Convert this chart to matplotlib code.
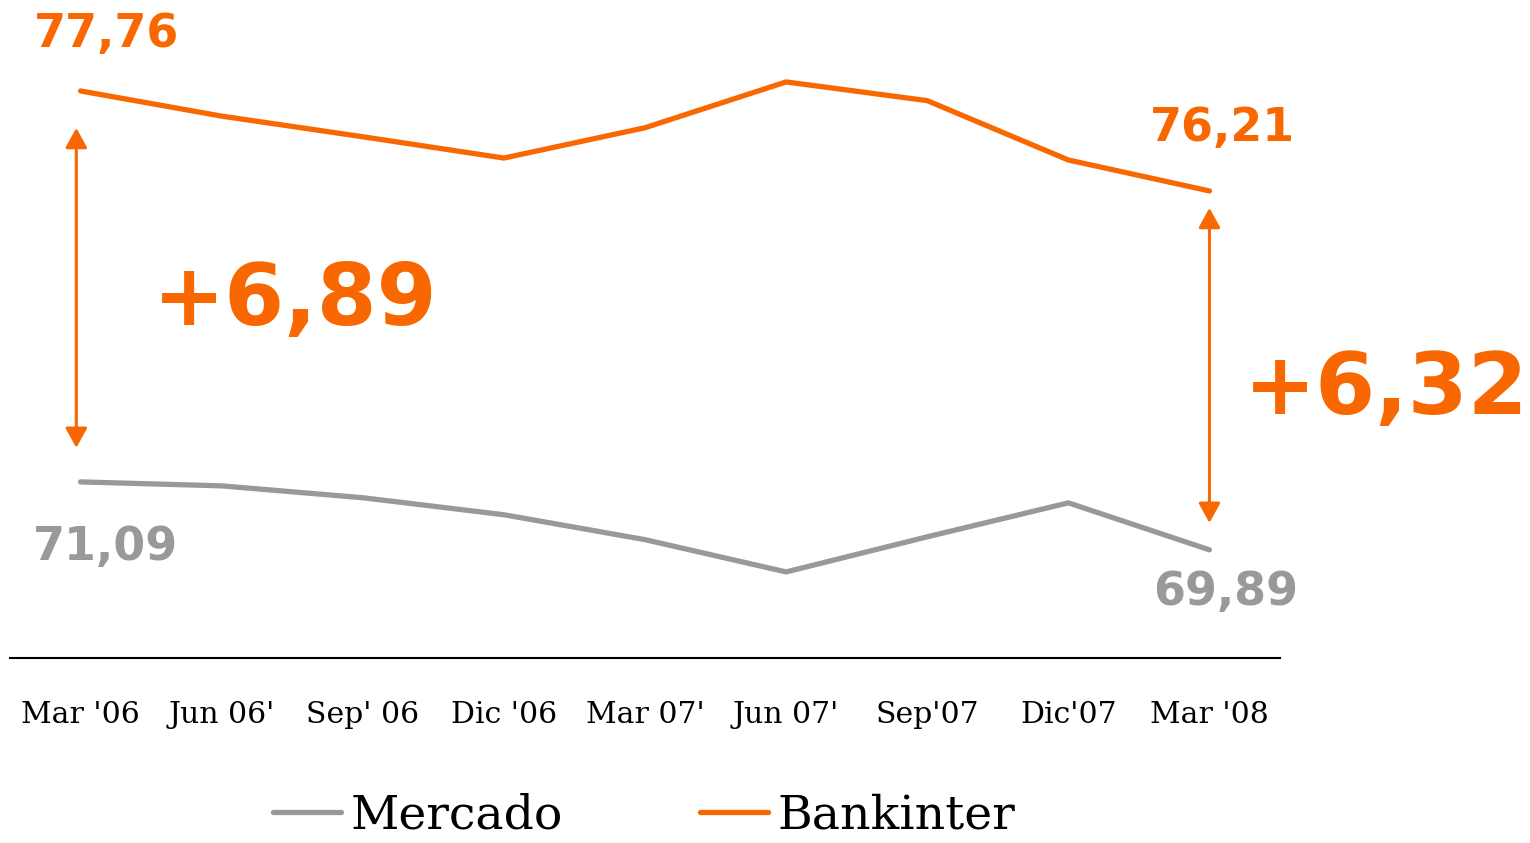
import numpy as np
import matplotlib
matplotlib.use("Agg")
import matplotlib.pyplot as plt

# ---------------------------------------------------------------------------
# DATA
# ---------------------------------------------------------------------------
periods = ["Mar '06", "Jun 06'", "Sep' 06", "Dic '06", "Mar 07'",
           "Jun 07'", "Sep'07", "Dic'07", "Mar '08"]
bankinter = [77.76, 77.37, 77.05, 76.72, 77.19, 77.90, 77.61, 76.69, 76.21]
mercado = [71.09, 71.02, 70.81, 70.51, 70.07, 69.50, 70.12, 70.72, 69.89]
gap_labels = ["+6,89", "+6,32"]

ORANGE = "#F96700"
GREY = "#999999"


def fmt(v):
    return ("%.2f" % v).replace(".", ",")


fig = plt.figure(figsize=(15.3, 8.43), dpi=100)
rect = [10 / 1530, 1 - 658 / 843, 1270 / 1530, 658 / 843]

#- grey series on its own (hidden) scale, orange on top
ax_g = fig.add_axes(rect)
ax_o = fig.add_axes(rect, sharex=ax_g)
ax_o.patch.set_visible(False)

x = np.arange(len(periods))
ax_g.plot(x, mercado, color=GREY, lw=3.8, solid_capstyle="round",
          solid_joinstyle="miter", label="Mercado")
ax_o.plot(x, bankinter, color=ORANGE, lw=3.8, solid_capstyle="round",
          solid_joinstyle="miter", label="Bankinter")

ax_g.set_xlim(-0.5, 8.5)
ax_g.set_ylim(67.98, 79.60)
ax_o.set_ylim(68.97, 79.17)

for ax in (ax_g, ax_o):
    for s in ("top", "right", "left"):
        ax.spines[s].set_visible(False)
    ax.set_yticks([])
ax_o.spines["bottom"].set_visible(False)
ax_g.spines["bottom"].set_linewidth(1.5)
ax_g.set_xticks(x)
ax_g.set_xticklabels(periods, family="DejaVu Serif", fontsize=21.5)
ax_g.tick_params(axis="x", length=0, pad=31)
ax_o.tick_params(axis="x", length=0, labelbottom=False)

#- end value labels
num = dict(family="DejaVu Sans", fontweight="bold", ha="center", va="center",
           annotation_clip=False)
ax_o.annotate(fmt(bankinter[0]), (x[0], bankinter[0]), xytext=(19, 41),
              textcoords="offset points", color=ORANGE, fontsize=33, **num)
ax_o.annotate(fmt(bankinter[-1]), (x[-1], bankinter[-1]), xytext=(9, 45),
              textcoords="offset points", color=ORANGE, fontsize=33, **num)
ax_g.annotate(fmt(mercado[0]), (x[0], mercado[0]), xytext=(18, -47),
              textcoords="offset points", color=GREY, fontsize=33, **num)
ax_g.annotate(fmt(mercado[-1]), (x[-1], mercado[-1]), xytext=(11.5, -31),
              textcoords="offset points", color=GREY, fontsize=33, **num)

#- gap arrows
arrow = dict(arrowstyle="<|-|>,head_length=0.6,head_width=0.33",
             mutation_scale=20, color=ORANGE, lw=2.2)
ax_o.annotate("", xy=(x[0] - 0.03, mercado[0]), xycoords=ax_g.transData,
              xytext=(x[0] - 0.03, bankinter[0]), textcoords=ax_o.transData,
              arrowprops=dict(shrinkA=26.6, shrinkB=24.5, **arrow))
ax_o.annotate("", xy=(x[-1], mercado[-1]), xycoords=ax_g.transData,
              xytext=(x[-1], bankinter[-1]), textcoords=ax_o.transData,
              arrowprops=dict(shrinkA=12.2, shrinkB=19.4, **arrow))

ax_o.text(1.52, 74.49, gap_labels[0], color=ORANGE, fontsize=62,
          family="DejaVu Sans", fontweight="bold", ha="center", va="center")
ax_o.text(9.25, 73.12, gap_labels[1], color=ORANGE, fontsize=62,
          family="DejaVu Sans", fontweight="bold", ha="center", va="center")

#- legend
h_g, l_g = ax_g.get_legend_handles_labels()
h_o, l_o = ax_o.get_legend_handles_labels()
fig.legend(h_g + h_o, l_g + l_o, loc="center", bbox_to_anchor=(0.421, 0.032),
           ncol=2, frameon=False, prop=dict(family="DejaVu Serif", size=34),
           handlelength=1.45, handletextpad=0.2, columnspacing=2.9,
           borderpad=0)

fig.savefig("out.png", dpi=100)
